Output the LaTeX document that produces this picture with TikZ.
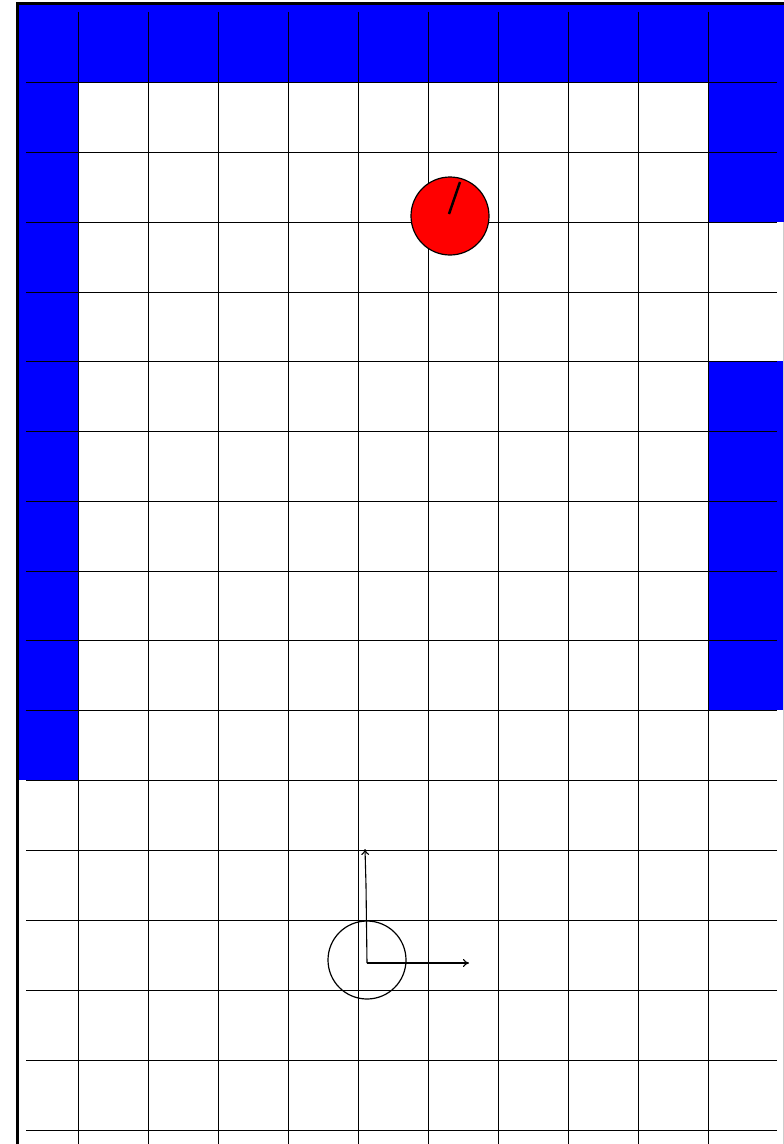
\documentclass[tikz,border=0pt]{standalone}
\usetikzlibrary{arrows.meta}
\begin{document}
\begin{tikzpicture}[x=1pt,y=-1pt,
  wall/.style={fill={rgb,255:red,0;green,0;blue,255},draw=none},
  gridline/.style={line width=1pt,black},
  ball/.style={circle,draw,line width=1.2pt,minimum size=78pt,inner sep=0pt},
  axis/.style={line width=1.1pt,-{To[length=6pt,width=8pt]}}]
\useasboundingbox (0,0) rectangle (784,1144);
% walls
\fill[wall] (17,3) rectangle (784,82);
\fill[wall] (17,82) rectangle (78,780);
\fill[wall] (708,82) rectangle (784,222);
\fill[wall] (708,361) rectangle (784,710);
% grid
\foreach \x in {78,148,218,288,358,428,498,568,638,708}
  \draw[gridline] (\x,12) -- (\x,1144);
\foreach \y in {82,152,222,292,361,431,501,571,640,710,780,850,920,990,1060,1130}
  \draw[gridline] (26,\y) -- (777,\y);
\draw[gray!40,line width=0.8pt] (783,222) -- (783,1144);
% border
\draw[line width=3pt] (17,1144) -- (17,3) -- (784,3);
% target
\node[ball,fill={rgb,255:red,255;green,0;blue,0}] (target) at (450,216) {};
\coordinate (tc) at (449,214);
\coordinate (th) at (460,182);
\draw[line width=2.5pt] (tc) -- (th);
% robot
\node[ball] (robot) at (367,960) {};
\coordinate (o) at (367,963);
\coordinate (yend) at (365,849);
\coordinate (xend) at (469,963);
\draw[axis] (o) -- (366,885) -- (yend);
\draw[axis] (o) -- (xend);
\end{tikzpicture}
\end{document}
